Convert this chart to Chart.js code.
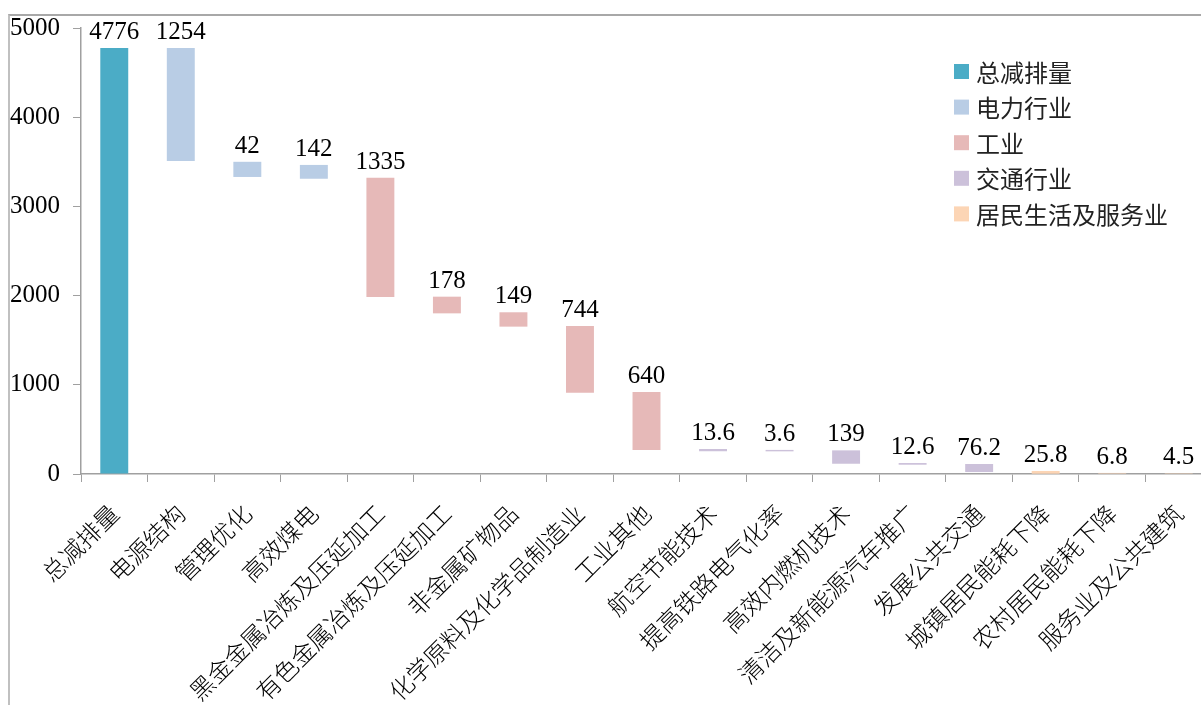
<!DOCTYPE html>
<html>
<head>
<meta charset="utf-8">
<script src="https://cdn.jsdelivr.net/npm/chart.js@4.4.1/dist/chart.umd.min.js"></script>
<style>
  html, body { margin: 0; padding: 0; background: #fff; overflow: hidden; }
  #wrap { position: relative; width: 1201px; height: 705px; overflow: hidden; }
  #frame { position: absolute; left: 8px; top: 14px; right: -20px; bottom: -20px;
           border-top: 2px solid #a8a8a8; border-left: 2px solid #c0c0c0; }
  canvas { position: absolute; left: 0; top: 0; }
</style>
</head>
<body>
<div id="wrap">
  <div id="frame"></div>
  <canvas id="chart" width="1230" height="705"></canvas>
</div>
<script>
// Data
const categories = ['总减排量', '电源结构', '管理优化', '高效煤电', '黑金金属冶炼及压延加工',
  '有色金属冶炼及压延加工', '非金属矿物品', '化学原料及化学品制造业', '工业其他', '航空节能技术',
  '提高铁路电气化率', '高效内燃机技术', '清洁及新能源汽车推广', '发展公共交通', '城镇居民能耗下降',
  '农村居民能耗下降', '服务业及公共建筑'];
const groups = ['总减排量', '电力行业', '工业', '交通行业', '居民生活及服务业'];
const groupOf = [0, 1, 1, 1, 2, 2, 2, 2, 2, 3, 3, 3, 3, 3, 4, 4, 4];
const barLow = [0, 3510, 3330, 3310, 1985, 1801, 1652, 911, 269, 255, 254, 115, 104, 22, 3, 0, 0];
const barHigh = [4776, 4776, 3500, 3465, 3322, 1988, 1813, 1659, 919, 280, 270, 265, 123, 112, 34, 12, 10];
const valueLabels = ['4776', '1254', '42', '142', '1335', '178', '149', '744', '640', '13.6', '3.6',
  '139', '12.6', '76.2', '25.8', '6.8', '4.5'];
const yTicks = [0, 1000, 2000, 3000, 4000, 5000];
const groupColors = ['#4bacc6', '#b9cde5', '#e6b9b8', '#ccc1da', '#fcd5b5'];

const serif = "'Liberation Serif', 'Times New Roman', serif";
const cjk = "'Noto Sans CJK SC', sans-serif";

const datasets = groups.map((g, gi) => ({
    label: g,
    backgroundColor: groupColors[gi],
    data: categories.map((c, i) => groupOf[i] === gi ? [barLow[i], barHigh[i]] : null),
    grouped: false,
    categoryPercentage: 1,
    barPercentage: 0.42
}));

// value labels above each bar
const valueLabelPlugin = {
    id: 'valueLabels',
    afterDatasetsDraw(chart) {
        const ctx = chart.ctx;
        ctx.save();
        ctx.font = '25px ' + serif;
        ctx.fillStyle = '#000';
        ctx.textAlign = 'center';
        ctx.textBaseline = 'alphabetic';
        categories.forEach((c, i) => {
            const el = chart.getDatasetMeta(groupOf[i]).data[i];
            const top = Math.min(el.y, el.base);
            ctx.fillText(valueLabels[i], el.x, top - 9);
        });
        ctx.restore();
    }
};

// legend drawn inside the plot area
const insideLegend = {
    id: 'insideLegend',
    afterDraw(chart) {
        const ctx = chart.ctx;
        ctx.save();
        ctx.font = '24px ' + cjk;
        ctx.textBaseline = 'middle';
        ctx.textAlign = 'left';
        groups.forEach((g, gi) => {
            const cy = 71.5 + gi * 35.6;
            ctx.fillStyle = groupColors[gi];
            ctx.fillRect(954, cy - 7.5, 15, 15);
            ctx.fillStyle = '#222';
            ctx.fillText(g, 976, cy + 1);
        });
        ctx.restore();
    }
};

new Chart(document.getElementById('chart'), {
    type: 'bar',
    data: { labels: categories, datasets },
    options: {
        responsive: false,
        animation: false,
        layout: { padding: { top: 28, right: 18, left: 0, bottom: 0 } },
        plugins: { legend: { display: false }, tooltip: { enabled: false } },
        scales: {
            x: {
                grid: { drawOnChartArea: false, tickLength: 8, color: '#a0a0a0', offset: true },
                border: { color: '#a0a0a0', width: 1.5 },
                ticks: {
                    font: { family: cjk, size: 24, weight: 300 },
                    color: '#000',
                    maxRotation: 45, minRotation: 45,
                    autoSkip: false,
                    padding: 17
                },
                afterFit(scale) { scale.height = 231; }
            },
            y: {
                min: 0, max: 5000,
                afterBuildTicks(scale) { scale.ticks = yTicks.map(v => ({ value: v })); },
                grid: { drawOnChartArea: false, tickLength: 8, color: '#a0a0a0' },
                border: { color: '#a0a0a0', width: 1.5 },
                ticks: {
                    font: { family: serif, size: 25 },
                    color: '#000',
                    padding: 13,
                    callback: v => String(v)
                },
                afterFit(scale) { scale.width = 81; }
            }
        }
    },
    plugins: [valueLabelPlugin, insideLegend]
});
</script>
</body>
</html>
